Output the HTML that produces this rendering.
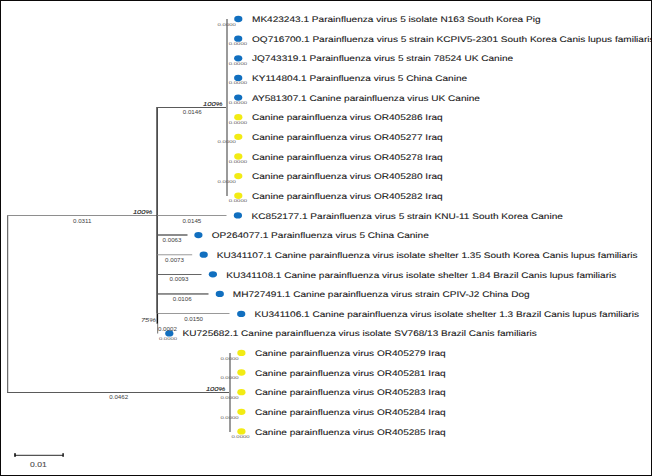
<!DOCTYPE html>
<html><head><meta charset="utf-8"><style>
html,body{margin:0;padding:0;background:#fff;}
#w{position:relative;width:652px;height:476px;overflow:hidden;background:#fff;}
#w:after{content:"";position:absolute;left:0;top:0;right:0;bottom:0;border:1px solid #0a0808;pointer-events:none;}
svg{position:absolute;left:0;top:0;}
text{font-family:"Liberation Sans",sans-serif;}
.lt{text-rendering:geometricPrecision;font-size:8.15px;fill:#141414;stroke:#141414;stroke-width:0.08px;}
.zl{font-size:4.2px;fill:#5e5a56;}
.bl{font-size:4.9px;fill:#3c3c3c;}
.sp{font-size:5.6px;fill:#1e1e1e;font-style:italic;stroke:#1e1e1e;stroke-width:0.1px;}
.sp2{font-size:5.6px;fill:#3a3a3a;font-style:italic;}
.sc{font-size:7.7px;fill:#4a4a4a;stroke:#4a4a4a;stroke-width:0.1px;}
</style></head><body><div id="w">
<svg width="652" height="476" viewBox="0 0 652 476">
<rect x="7.20" y="215.00" width="1.00" height="178.00" fill="#4a4a4a"/>
<rect x="7.20" y="215.00" width="150.00" height="1.00" fill="#8e8e8e"/>
<rect x="7.20" y="392.00" width="222.50" height="1.00" fill="#5a5a5a"/>
<rect x="156.30" y="107.00" width="1.60" height="206.50" fill="#3a3a3a"/>
<rect x="157.00" y="107.00" width="69.50" height="1.00" fill="#5a5a5a"/>
<rect x="226.00" y="19.00" width="2.00" height="177.00" fill="#9a9a9a"/>
<rect x="157.50" y="215.00" width="69.00" height="1.00" fill="#959595"/>
<rect x="157.50" y="234.30" width="30.00" height="1.40" fill="#5a5a5a"/>
<rect x="157.50" y="254.20" width="34.70" height="1.10" fill="#a4a4a4"/>
<rect x="157.50" y="274.00" width="44.00" height="1.00" fill="#666666"/>
<rect x="157.50" y="293.30" width="51.00" height="1.30" fill="#5a5a5a"/>
<rect x="157.50" y="313.00" width="72.00" height="1.00" fill="#999999"/>
<rect x="156.60" y="313.50" width="1.50" height="10.30" fill="#111111"/>
<rect x="157.00" y="323.80" width="1.20" height="9.70" fill="#888888"/>
<rect x="229.00" y="353.00" width="2.00" height="79.00" fill="#9a9a9a"/>
<ellipse cx="238.30" cy="19.00" rx="4.1" ry="3.15" fill="#116fbf"/>
<ellipse cx="238.20" cy="38.64" rx="4.1" ry="3.15" fill="#116fbf"/>
<ellipse cx="238.20" cy="58.28" rx="4.1" ry="3.15" fill="#116fbf"/>
<ellipse cx="238.20" cy="77.92" rx="4.1" ry="3.15" fill="#116fbf"/>
<ellipse cx="238.20" cy="97.56" rx="4.1" ry="3.15" fill="#116fbf"/>
<ellipse cx="238.30" cy="117.20" rx="4.1" ry="3.15" fill="#f2eb14"/>
<ellipse cx="238.30" cy="136.84" rx="4.1" ry="3.15" fill="#f2eb14"/>
<ellipse cx="238.30" cy="156.48" rx="4.1" ry="3.15" fill="#f2eb14"/>
<ellipse cx="238.30" cy="176.12" rx="4.1" ry="3.15" fill="#f2eb14"/>
<ellipse cx="238.30" cy="195.76" rx="4.1" ry="3.15" fill="#f2eb14"/>
<ellipse cx="237.90" cy="215.40" rx="4.1" ry="3.15" fill="#116fbf"/>
<ellipse cx="198.40" cy="235.04" rx="4.1" ry="3.15" fill="#116fbf"/>
<ellipse cx="203.70" cy="254.68" rx="4.1" ry="3.15" fill="#116fbf"/>
<ellipse cx="212.90" cy="274.32" rx="4.1" ry="3.15" fill="#116fbf"/>
<ellipse cx="219.80" cy="293.96" rx="4.1" ry="3.15" fill="#116fbf"/>
<ellipse cx="241.20" cy="313.95" rx="4.1" ry="3.15" fill="#116fbf"/>
<ellipse cx="169.30" cy="333.44" rx="4.1" ry="3.15" fill="#116fbf"/>
<ellipse cx="241.40" cy="352.88" rx="4.1" ry="3.15" fill="#f2eb14"/>
<ellipse cx="241.40" cy="372.52" rx="4.1" ry="3.15" fill="#f2eb14"/>
<ellipse cx="241.40" cy="392.16" rx="4.1" ry="3.15" fill="#f2eb14"/>
<ellipse cx="241.40" cy="411.80" rx="4.1" ry="3.15" fill="#f2eb14"/>
<ellipse cx="241.40" cy="431.44" rx="4.1" ry="3.15" fill="#f2eb14"/>
<text transform="translate(252.00,22.20) scale(1.2380,1)" class="lt">MK423243.1 Parainfluenza virus 5 isolate N163 South Korea Pig</text>
<text transform="translate(252.00,41.84) scale(1.2380,1)" class="lt">OQ716700.1 Parainfluenza virus 5 strain KCPIV5-2301 South Korea Canis lupus familiaris</text>
<text transform="translate(252.00,61.48) scale(1.2380,1)" class="lt">JQ743319.1 Parainfluenza virus 5 strain 78524 UK Canine</text>
<text transform="translate(252.00,81.12) scale(1.2380,1)" class="lt">KY114804.1 Parainfluenza virus 5 China Canine</text>
<text transform="translate(252.00,100.76) scale(1.2380,1)" class="lt">AY581307.1 Canine parainfluenza virus UK Canine</text>
<text transform="translate(252.00,120.40) scale(1.2380,1)" class="lt">Canine parainfluenza virus OR405286 Iraq</text>
<text transform="translate(252.00,140.04) scale(1.2380,1)" class="lt">Canine parainfluenza virus OR405277 Iraq</text>
<text transform="translate(252.00,159.68) scale(1.2380,1)" class="lt">Canine parainfluenza virus OR405278 Iraq</text>
<text transform="translate(252.00,179.32) scale(1.2380,1)" class="lt">Canine parainfluenza virus OR405280 Iraq</text>
<text transform="translate(252.00,198.96) scale(1.2380,1)" class="lt">Canine parainfluenza virus OR405282 Iraq</text>
<text transform="translate(251.60,218.60) scale(1.2380,1)" class="lt">KC852177.1 Parainfluenza virus 5 strain KNU-11 South Korea Canine</text>
<text transform="translate(211.80,238.24) scale(1.2380,1)" class="lt">OP264077.1 Parainfluenza virus 5 China Canine</text>
<text transform="translate(216.70,257.88) scale(1.2380,1)" class="lt">KU341107.1 Canine parainfluenza virus isolate shelter 1.35 South Korea Canis lupus familiaris</text>
<text transform="translate(226.20,277.52) scale(1.2380,1)" class="lt">KU341108.1 Canine parainfluenza virus isolate shelter 1.84 Brazil Canis lupus familiaris</text>
<text transform="translate(232.80,297.16) scale(1.2380,1)" class="lt">MH727491.1 Canine parainfluenza virus strain CPIV-J2 China Dog</text>
<text transform="translate(254.50,317.15) scale(1.2380,1)" class="lt">KU341106.1 Canine parainfluenza virus isolate shelter 1.3 Brazil Canis lupus familiaris</text>
<text transform="translate(182.60,336.14) scale(1.2330,1)" class="lt">KU725682.1 Canine parainfluenza virus isolate SV768/13 Brazil Canis familiaris</text>
<text transform="translate(255.00,356.08) scale(1.2380,1)" class="lt">Canine parainfluenza virus OR405279 Iraq</text>
<text transform="translate(255.00,375.72) scale(1.2380,1)" class="lt">Canine parainfluenza virus OR405281 Iraq</text>
<text transform="translate(255.00,395.36) scale(1.2380,1)" class="lt">Canine parainfluenza virus OR405283 Iraq</text>
<text transform="translate(255.00,415.00) scale(1.2380,1)" class="lt">Canine parainfluenza virus OR405284 Iraq</text>
<text transform="translate(255.00,434.64) scale(1.2380,1)" class="lt">Canine parainfluenza virus OR405285 Iraq</text>
<text transform="translate(226.70,25.50) scale(1.42,1)" class="zl" text-anchor="middle">0.0000</text>
<text transform="translate(237.90,45.14) scale(1.42,1)" class="zl" text-anchor="middle">0.0000</text>
<text transform="translate(237.90,64.78) scale(1.42,1)" class="zl" text-anchor="middle">0.0000</text>
<text transform="translate(237.90,84.42) scale(1.42,1)" class="zl" text-anchor="middle">0.0000</text>
<text transform="translate(237.90,104.06) scale(1.42,1)" class="zl" text-anchor="middle">0.0000</text>
<text transform="translate(237.90,123.70) scale(1.42,1)" class="zl" text-anchor="middle">0.0000</text>
<text transform="translate(226.70,143.34) scale(1.42,1)" class="zl" text-anchor="middle">0.0000</text>
<text transform="translate(237.90,162.98) scale(1.42,1)" class="zl" text-anchor="middle">0.0000</text>
<text transform="translate(226.70,182.62) scale(1.42,1)" class="zl" text-anchor="middle">0.0000</text>
<text transform="translate(237.90,202.26) scale(1.42,1)" class="zl" text-anchor="middle">0.0000</text>
<text transform="translate(168.00,339.94) scale(1.42,1)" class="zl" text-anchor="middle">0.0000</text>
<text transform="translate(229.50,359.58) scale(1.42,1)" class="zl" text-anchor="middle">0.0000</text>
<text transform="translate(229.50,379.22) scale(1.42,1)" class="zl" text-anchor="middle">0.0000</text>
<text transform="translate(229.50,398.86) scale(1.42,1)" class="zl" text-anchor="middle">0.0000</text>
<text transform="translate(229.50,418.50) scale(1.42,1)" class="zl" text-anchor="middle">0.0000</text>
<text transform="translate(240.50,438.14) scale(1.42,1)" class="zl" text-anchor="middle">0.0000</text>
<text transform="translate(82.20,222.55) scale(1.26,1)" class="bl" text-anchor="middle">0.0311</text>
<text transform="translate(118.70,399.25) scale(1.26,1)" class="bl" text-anchor="middle">0.0462</text>
<text transform="translate(192.20,114.25) scale(1.26,1)" class="bl" text-anchor="middle">0.0146</text>
<text transform="translate(191.80,222.85) scale(1.26,1)" class="bl" text-anchor="middle">0.0145</text>
<text transform="translate(172.00,241.85) scale(1.26,1)" class="bl" text-anchor="middle">0.0063</text>
<text transform="translate(174.50,261.55) scale(1.26,1)" class="bl" text-anchor="middle">0.0073</text>
<text transform="translate(179.00,280.95) scale(1.26,1)" class="bl" text-anchor="middle">0.0093</text>
<text transform="translate(182.20,300.85) scale(1.26,1)" class="bl" text-anchor="middle">0.0106</text>
<text transform="translate(193.60,320.55) scale(1.26,1)" class="bl" text-anchor="middle">0.0150</text>
<text transform="translate(167.40,331.05) scale(1.26,1)" class="bl" text-anchor="middle">0.0002</text>
<text transform="translate(152.20,214.10) scale(1.35,1)" class="sp" text-anchor="end">100%</text>
<text transform="translate(222.40,105.80) scale(1.35,1)" class="sp" text-anchor="end">100%</text>
<text transform="translate(156.00,322.00) scale(1.35,1)" class="sp2" text-anchor="end">75%</text>
<text transform="translate(225.20,391.00) scale(1.35,1)" class="sp" text-anchor="end">100%</text>
<rect x="15.00" y="454.80" width="48.00" height="1.00" fill="#2a2a2a"/>
<rect x="14.20" y="453.20" width="1.60" height="3.60" fill="#0a0a0a"/>
<rect x="62.40" y="453.20" width="1.40" height="3.60" fill="#0a0a0a"/>
<text transform="translate(38.4,467.4) scale(1.12,1)" class="sc" text-anchor="middle">0.01</text>
</svg></div></body></html>
